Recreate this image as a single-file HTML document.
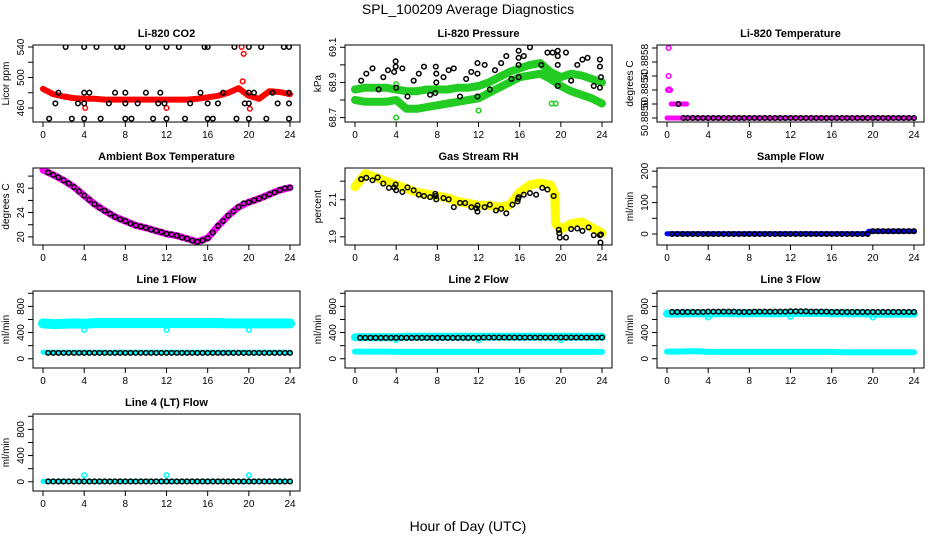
<!DOCTYPE html>
<html><head><meta charset="utf-8"><style>
html,body{margin:0;padding:0;background:#fff;}
svg{display:block;font-family:"Liberation Sans",sans-serif;}
</style></head><body>
<svg id="chart" width="936" height="540" viewBox="0 0 936 540" xmlns="http://www.w3.org/2000/svg">
<rect x="0" y="0" width="936" height="540" fill="#fff"/>
<text x="468" y="14" font-size="14" text-anchor="middle">SPL_100209  Average Diagnostics</text>
<text x="468" y="531" font-size="14" text-anchor="middle">Hour of Day (UTC)</text>
</svg>
<script>
// ---- shared x data ----
const xTicks = [0,4,8,12,16,20,24];
const hrs25 = [0,1,2,3,4,5,6,7,8,9,10,11,12,13,14,15,16,17,18,19,20,21,22,23,24];
const H48 = [0.5,1,1.5,2,2.5,3,3.5,4,4.5,5,5.5,6,6.5,7,7.5,8,8.5,9,9.5,10,10.5,11,11.5,12,12.5,13,13.5,14,14.5,15,15.5,16,16.5,17,17.5,18,18.5,19,19.5,20,20.5,21,21.5,22,22.5,23,23.5,24];

// ---- CO2 ----
const co2Ticks = [460,480,500,520,540];
const co2Labels = ["460","","500","","540"];
const co2Band = [485,478,475,473,472,472,471,471,471,471,471,471,471,471,471,472,474,476,480,486,476,472,482,481,478];
const co2RedT = [19.3,19.5,19.4,4.1,12,20.1];
const co2RedV = [540,531,495,460,460,459];
const co2BlackT = [2.2,4,5.2,7.2,7.7,10.2,12,13.2,15.7,16,18.6,20,21.2,23.4,23.9, 1.5,4,4.5,7,8,10,11.4,15.3,17.5,20,20.5,22.3,23.9, 1.2,3.4,4,6.4,8,9.2,11.2,11.8,14.3,16,17,19.6,20,22.8,23.9, 0.6,2.8,4,5.6,8,8.6,10.7,12,13.8,16,16.5,18.8,20,21.7,23.9];
const co2BlackV = [540,540,540,540,540,540,540,540,540,540,540,540,540,540,540, 480,480,480,480,480,480,480,480,480,480,480,480,480, 466,466,466,466,466,466,466,466,466,466,466,466,466,466,466, 446,446,446,446,446,446,446,446,446,446,446,446,446,446,446];

// ---- Pressure ----
const presTicks = [68.7,68.8,68.9,69.0,69.1];
const presLabels = ["68.7","","68.9","","69.1"];
const presUpper = [68.86,68.87,68.87,68.87,68.86,68.85,68.85,68.86,68.86,68.86,68.87,68.87,68.88,68.90,68.93,68.96,68.98,69.00,69.01,68.96,68.93,68.95,68.94,68.92,68.90];
const presLower = [68.80,68.79,68.79,68.79,68.80,68.75,68.75,68.76,68.77,68.78,68.79,68.80,68.81,68.84,68.87,68.90,68.93,68.94,68.95,68.92,68.88,68.85,68.83,68.81,68.78];
const presGreenT = [4,12,19.1,19.5,4,0];
const presGreenV = [68.70,68.74,68.78,68.78,68.89,68.86];
const presBlackT = [0.6,1.1,1.7,2.75,3.2,3.8,3.95,3.95,4.6,2.3,4,5.1,5.7,6.2,6.7,7.3,7.85,7.9,7.9,7.8,8.6,9.1,9.6,10.2,10.8,11.3,11.9,11.9,11.9,12.6,13.1,13.6,14.2,14.7,15.9,15.9,15.9,15.9,15.2,16.4,17,17.5,18.1,18.7,19.2,19.7,19.7,19.7,19.7,20.5,21,21.6,22.1,22.6,23.2,23.8,23.8,23.9,23.8];
const presBlackV = [68.91,68.95,68.98,68.93,68.97,68.96,69.02,68.99,68.98,68.86,68.87,68.82,68.91,68.95,68.99,68.83,68.99,68.95,68.90,68.84,68.93,68.97,68.98,68.82,68.92,68.96,68.95,69.01,68.82,69.00,68.86,68.97,69.01,69.05,69.08,69.04,69.00,68.93,68.92,69.05,69.10,69.14,69.00,69.07,69.07,69.08,69.05,69.00,68.88,69.07,68.91,69.00,69.03,69.04,68.88,69.03,68.99,68.93,68.87];

// ---- Li-820 Temperature ----
const ltTicks = [0,1,2,3,4,5];
const ltLabels = ["50.8850","","50.8854","","50.8858",""];
const ltBandT = [0,24];
const ltBandV = [0,0];
const ltBand2T = [0.4,1.9];
const ltBand2V = [1,1];
const ltMagT = [0.1,0.2,0.15,0.3,0.15];
const ltMagV = [2,2.05,3,2,5];
const ltBlackT = [1.1,1.6,2,2.5,3,3.5,4,4.5,5,5.5,6,6.5,7,7.5,8,8.5,9,9.5,10,10.5,11,11.5,12,12.5,13,13.5,14,14.5,15,15.5,16,16.5,17,17.5,18,18.5,19,19.5,20,20.5,21,21.5,22,22.5,23,23.5,24];
const ltBlackV = [1,0,0,0,0,0,0,0,0,0,0,0,0,0,0,0,0,0,0,0,0,0,0,0,0,0,0,0,0,0,0,0,0,0,0,0,0,0,0,0,0,0,0,0,0,0,0];

// ---- Ambient ----
const ambTicks = [20,22,24,26,28,30];
const ambLabels = ["20","","24","","28",""];
const ambBand = [31.0,30.2,29.3,28.2,26.8,25.4,24.3,23.3,22.6,21.9,21.5,21.0,20.5,20.2,19.7,19.2,19.8,21.8,23.5,24.9,25.7,26.3,27.0,27.7,28.1];
const ambBlack = [30.6,30.2,29.8,29.3,28.8,28.2,27.5,26.8,26.1,25.4,24.8,24.3,23.8,23.3,22.9,22.6,22.2,21.9,21.7,21.5,21.2,21.0,20.8,20.5,20.4,20.2,19.9,19.7,19.4,19.2,19.4,19.8,20.7,21.8,22.6,23.5,24.2,24.9,25.5,25.7,26.0,26.3,26.6,27.0,27.3,27.7,28.0,28.1];

// ---- Gas RH ----
const rhTicks = [1.9,2.0,2.1,2.2];
const rhLabels = ["1.9","","2.1",""];
const rhBandT = [0,1,2,3,4,5,6,7,8,9,10,11,12,13,14,15,16,17,18,19,19.4,19.5,20,21,22,23,24];
const rhBandV = [2.17,2.24,2.22,2.20,2.18,2.16,2.14,2.13,2.12,2.11,2.09,2.08,2.07,2.07,2.06,2.07,2.14,2.18,2.19,2.18,2.13,1.97,1.94,1.97,1.98,1.95,1.92];
const rhBlackT = [0.6,1.1,1.7,2.2,2.75,3.3,3.8,3.95,4,4.6,5.1,5.7,6.2,6.7,7.3,7.8,7.85,7.9,8.6,9.1,9.6,10.2,10.7,11.3,11.8,11.9,11.9,12.6,13.1,13.7,14.2,14.7,15.3,15.8,15.85,15.9,16.4,17,17.6,18.2,18.7,19.3,19.8,19.85,19.9,20.5,21,21.6,22.1,22.7,23.2,23.8,23.85,23.9];
const rhBlackV = [2.211,2.218,2.205,2.220,2.187,2.164,2.166,2.182,2.151,2.142,2.166,2.151,2.127,2.120,2.114,2.132,2.120,2.102,2.109,2.102,2.060,2.083,2.082,2.060,2.054,2.069,2.036,2.060,2.073,2.042,2.051,2.027,2.073,2.091,2.105,2.114,2.127,2.136,2.127,2.164,2.155,2.120,1.938,1.920,1.896,1.896,1.942,1.945,1.932,1.951,1.909,1.909,1.869,1.913];

// ---- Sample flow ----
const sfTicks = [0,50,100,150,200];
const sfLabels = ["0","","100","","200"];
const sfBandT = [0,4,8,12,16,19.4,19.6,24];
const sfBandV = [1,1,1,1,1,1,9,9];
const sfBlack = [0,0,0,0,0,0,0,0,0,0,0,0,0,0,0,0,0,0,0,0,0,0,0,0,0,0,0,0,0,0,0,0,0,0,0,0,0,0,0,9,9,9,9,9,9,9,9,9];

// ---- line flows ----
const flowTicks = [0,200,400,600,800,1000];
const flowLabels = ["0","","400","","800",""];
const line1Upper = [540,530,535,540,535,545,545,545,545,545,545,545,545,545,545,545,545,545,540,540,540,540,540,540,540];
const line1Lower = [100,100,100,100,100,100,100,100,100,100,100,100,100,100,100,100,100,100,100,100,100,100,100,100,100];
const line1Black = [90,90,90,90,90,90,90,90,90,90,90,90,90,90,90,90,90,90,90,90,90,90,90,90,90,90,90,90,90,90,90,90,90,90,90,90,90,90,90,90,90,90,90,90,90,90,90,90];
const line1OutT = [4,12,20];
const line1OutV = [440,440,440];
const line2Upper = [330,330,330,330,330,335,335,335,335,335,335,335,335,335,335,335,335,335,335,335,335,335,335,335,335];
const line2Lower = [110,110,110,110,105,105,105,105,105,105,105,105,105,105,105,105,105,105,105,105,105,105,105,105,105];
const line2Black = [320,320,320,320,320,320,320,320,320,320,320,320,320,320,320,320,320,320,320,320,320,320,320,320,325,325,325,325,325,325,325,325,325,325,325,325,325,325,325,325,325,325,325,325,325,325,325,325];
const line2OutT = [4,12,20];
const line2OutV = [285,285,285];
const line3Upper = [690,690,695,695,690,695,695,695,695,695,695,695,700,700,700,700,695,695,695,695,690,690,690,690,690];
const line3Lower = [110,110,115,115,105,105,105,105,105,105,105,105,105,105,105,105,105,100,100,100,100,100,100,100,100];
const line3Black = [715,715,715,715,715,715,715,720,720,720,720,720,720,715,715,715,720,720,720,720,720,720,720,725,725,725,725,720,720,720,720,715,715,715,715,715,715,715,715,715,715,715,715,715,715,715,715,715];
const line3OutT = [4,12,20];
const line3OutV = [630,640,630];
const line4Cyan = [5,5,5,5,5,5,5,5,5,5,5,5,5,5,5,5,5,5,5,5,5,5,5,5,5];
const line4Black = [5,5,5,5,5,5,5,5,5,5,5,5,5,5,5,5,5,5,5,5,5,5,5,5,5,5,5,5,5,5,5,5,5,5,5,5,5,5,5,5,5,5,5,5,5,5,5,5];
const line4OutT = [4,12,20];
const line4OutV = [100,100,100];

const NS = 'http://www.w3.org/2000/svg';
const svg = document.getElementById('chart');
function mk(tag, attrs, parent){
  const el = document.createElementNS(NS, tag);
  for (const k in attrs) el.setAttribute(k, attrs[k]);
  parent.appendChild(el);
  return el;
}
const boxTops = [45,168,291,414];
function makePanel(col,row,title,ylab,ymin,ymax,yt,yl,pname){
  const bx = 33 + 312*col, bw = 267, by = boxTops[row], bh = 77;
  const g = mk('g',{},svg);
  
  
  const sx = t => bx + 10 + t*(247/24);
  const sy = v => by + bh - (v-ymin)/(ymax-ymin)*bh;
  const clipId = 'clip-'+pname;
  const cp = mk('clipPath',{id:clipId},g);
  mk('rect',{x:bx,y:by,width:bw,height:bh},cp);
  const plot = mk('g',{'clip-path':'url(#'+clipId+')'},g);
  
  
  const tt = mk('text',{x:bx+bw/2,y:by-8,'font-size':11,'font-weight':'bold','text-anchor':'middle'},g);
  tt.textContent = title;
  
  
  const box = mk('rect',{x:bx,y:by,width:bw,height:bh,fill:'none',stroke:'#000','stroke-width':1},g);
  
  
  const xa = mk('g',{},g);
  
  
  for (const t of xTicks){
    mk('line',{x1:sx(t),x2:sx(t),y1:by+bh,y2:by+bh+5,stroke:'#000'},xa);
    const lb = mk('text',{x:sx(t),y:by+bh+16,'font-size':10,'text-anchor':'middle'},xa);
    lb.textContent = String(t);
  }
  const ya = mk('g',{},g);
  
  
  yt.forEach((v,i)=>{
    const y = sy(v);
    mk('line',{x1:bx-5,x2:bx,y1:y,y2:y,stroke:'#000'},ya);
    if (yl[i]){
      const lb = mk('text',{x:bx-9,y:y,'font-size':10,'text-anchor':'middle',transform:'rotate(-90 '+(bx-9)+' '+y+')'},ya);
      lb.textContent = yl[i];
    }
  });
  const yt2 = mk('text',{x:bx-24,y:by+bh/2,'font-size':10,'text-anchor':'middle',transform:'rotate(-90 '+(bx-24)+' '+(by+bh/2)+')'},g);
  yt2.textContent = ylab;
  
  
  return {sx, sy, plot};
}
function band(p, ts, vs, color, w, name){
  const pts = ts.map((t,i)=>p.sx(t).toFixed(1)+','+p.sy(vs[i]).toFixed(1)).join(' ');
  const el = mk('polyline',{points:pts,fill:'none',stroke:color,'stroke-width':w,'stroke-linejoin':'round','stroke-linecap':'round'},p.plot);
  
  
}
function points(p, ts, vs, color, name){
  const g = mk('g',{},p.plot);
  
  
  ts.forEach((t,i)=>{
    mk('circle',{cx:p.sx(t),cy:p.sy(vs[i]),r:2.3,fill:'none',stroke:color,'stroke-width':1.5},g);
  });
}

let p = makePanel(0,0,'Li-820 CO2','Licor ppm',441.6,542.6,co2Ticks,co2Labels,'co2-panel');
band(p,hrs25,co2Band,'#ff0000',6,'co2-red-band');
points(p,co2RedT,co2RedV,'#ff0000','co2-red-points');
points(p,co2BlackT,co2BlackV,'#000','co2-black-points');

p = makePanel(1,0,'Li-820 Pressure','kPa',68.675,69.113,presTicks,presLabels,'pressure-panel');
band(p,hrs25,presUpper,'#22cc22',8,'pressure-green-upper-band');
band(p,hrs25,presLower,'#22cc22',8,'pressure-green-lower-band');
points(p,presGreenT,presGreenV,'#22cc22','pressure-green-points');
points(p,presBlackT,presBlackV,'#000','pressure-black-points');

p = makePanel(2,0,'Li-820 Temperature','degrees C',-0.286,5.214,ltTicks,ltLabels,'licor-temperature-panel');
band(p,ltBandT,ltBandV,'#ff00ff',5,'licor-temp-magenta-band');
band(p,ltBand2T,ltBand2V,'#ff00ff',5,'licor-temp-magenta-step');
points(p,ltMagT,ltMagV,'#ff00ff','licor-temp-magenta-points');
points(p,ltBlackT,ltBlackV,'#000','licor-temp-black-points');

p = makePanel(0,1,'Ambient Box Temperature','degrees C',18.67,31.33,ambTicks,ambLabels,'ambient-temperature-panel');
band(p,hrs25,ambBand,'#ff00ff',7,'ambient-magenta-band');
points(p,H48,ambBlack,'#000','ambient-black-points');

p = makePanel(1,1,'Gas Stream RH','percent',1.856,2.271,rhTicks,rhLabels,'gas-rh-panel');
band(p,rhBandT,rhBandV,'#ffff00',9,'gas-rh-yellow-band');
points(p,rhBlackT,rhBlackV,'#000','gas-rh-black-points');

p = makePanel(2,1,'Sample Flow','ml/min',-35,210,sfTicks,sfLabels,'sample-flow-panel');
band(p,sfBandT,sfBandV,'#0000ff',5,'sample-flow-blue-band');
points(p,H48,sfBlack,'#000','sample-flow-black-points');

p = makePanel(0,2,'Line 1 Flow','ml/min',-141,1035,flowTicks,flowLabels,'line1-flow-panel');
band(p,hrs25,line1Upper,'#00ffff',10,'line1-cyan-upper-band');
band(p,hrs25,line1Lower,'#00ffff',5,'line1-cyan-lower-band');
points(p,line1OutT,line1OutV,'#00ffff','line1-cyan-outliers');
points(p,H48,line1Black,'#000','line1-black-points');

p = makePanel(1,2,'Line 2 Flow','ml/min',-141,1035,flowTicks,flowLabels,'line2-flow-panel');
band(p,hrs25,line2Upper,'#00ffff',8,'line2-cyan-upper-band');
band(p,hrs25,line2Lower,'#00ffff',6,'line2-cyan-lower-band');
points(p,line2OutT,line2OutV,'#00ffff','line2-cyan-outliers');
points(p,H48,line2Black,'#000','line2-black-points');

p = makePanel(2,2,'Line 3 Flow','ml/min',-141,1035,flowTicks,flowLabels,'line3-flow-panel');
band(p,hrs25,line3Upper,'#00ffff',8,'line3-cyan-upper-band');
band(p,hrs25,line3Lower,'#00ffff',6,'line3-cyan-lower-band');
points(p,line3OutT,line3OutV,'#00ffff','line3-cyan-outliers');
points(p,H48,line3Black,'#000','line3-black-points');

p = makePanel(0,3,'Line 4 (LT) Flow','ml/min',-141,1035,flowTicks,flowLabels,'line4-flow-panel');
band(p,hrs25,line4Cyan,'#00ffff',5,'line4-cyan-band');
points(p,line4OutT,line4OutV,'#00ffff','line4-cyan-outliers');
points(p,H48,line4Black,'#000','line4-black-points');
</script>
</body></html>
